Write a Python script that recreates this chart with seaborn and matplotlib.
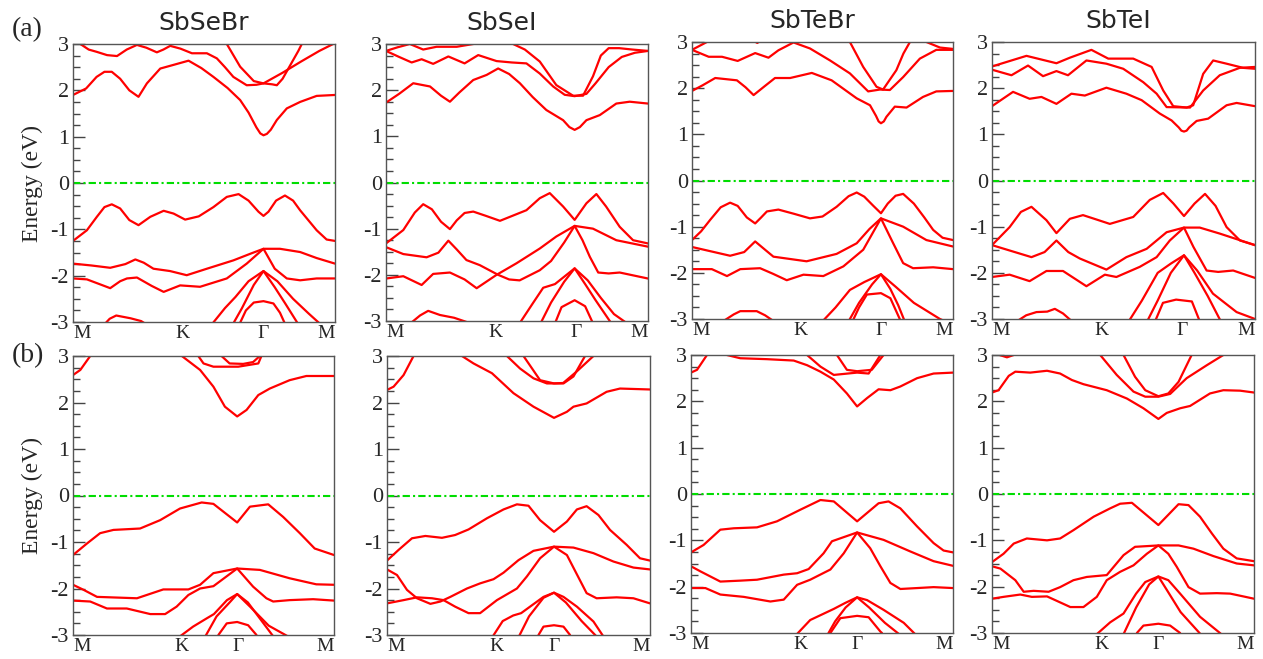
import matplotlib
matplotlib.use("Agg")
import matplotlib.pyplot as plt
from matplotlib.ticker import MultipleLocator, FixedLocator
import seaborn as sns
import pandas as pd

# ---------------- labels ----------------
materials = ["SbSeBr", "SbSeI", "SbTeBr", "SbTeI"]
row_tags = ["(a)", "(b)"]
kpath_labels = ["M", "K", "Γ", "M"]
kticks_a = [0.0, 0.416, 0.724, 1.0]
kticks_b = [0.0, 0.416, 0.634, 1.0]
energy_ticks = [-3, -2, -1, 0, 1, 2, 3]
energy_ticklabels = ["-3", "-2", "-1", "0", "1", "2", "3"]
ylabel_text = "Energy (eV)"

# ================= row (a) =================
# ---- SbSeBr (a) ----
a1_c1_k = [0, 0.05, 0.09, 0.12, 0.148, 0.18, 0.215, 0.25, 0.282, 0.333, 0.384, 0.441, 0.49, 0.536, 0.59, 0.638, 0.67, 0.70, 0.715, 0.727, 0.74, 0.755, 0.778, 0.816, 0.867, 0.93, 1.0]
a1_c1_e = [1.90, 2.04, 2.29, 2.40, 2.40, 2.25, 2.00, 1.86, 2.15, 2.47, 2.55, 2.64, 2.48, 2.29, 2.05, 1.79, 1.52, 1.20, 1.07, 1.03, 1.06, 1.15, 1.36, 1.61, 1.75, 1.88, 1.90]
a1_c2_k = [0, 0.028, 0.06, 0.091, 0.13, 0.168, 0.205, 0.244, 0.28, 0.32, 0.345, 0.371, 0.41, 0.454, 0.511, 0.549, 0.58, 0.612, 0.663, 0.70, 0.727, 0.80, 0.87, 0.94, 1.0]
a1_c2_e = [3.1, 3.0, 2.88, 2.83, 2.76, 2.74, 2.88, 2.98, 2.92, 2.82, 2.88, 2.96, 2.9, 2.80, 2.80, 2.69, 2.50, 2.29, 2.11, 2.12, 2.15, 2.38, 2.62, 2.85, 3.02]
a1_c3_k = [0.575, 0.587, 0.638, 0.69, 0.727, 0.76, 0.778, 0.80, 0.83, 0.86, 0.875]
a1_c3_e = [3.08, 3.0, 2.51, 2.20, 2.15, 2.13, 2.11, 2.25, 2.55, 2.85, 3.02]
a1_v1_k = [0, 0.053, 0.091, 0.12, 0.148, 0.18, 0.215, 0.25, 0.295, 0.346, 0.384, 0.428, 0.48, 0.536, 0.587, 0.632, 0.67, 0.708, 0.727, 0.746, 0.775, 0.809, 0.84, 0.867, 0.93, 0.968, 1.0]
a1_v1_e = [-1.25, -1.02, -0.73, -0.52, -0.46, -0.55, -0.80, -0.91, -0.73, -0.60, -0.66, -0.79, -0.72, -0.52, -0.30, -0.24, -0.38, -0.62, -0.71, -0.62, -0.38, -0.27, -0.38, -0.59, -1.02, -1.22, -1.25]
a1_v2_k = [0, 0.07, 0.142, 0.20, 0.238, 0.27, 0.307, 0.37, 0.434, 0.511, 0.612, 0.68, 0.727, 0.79, 0.867, 0.93, 1.0]
a1_v2_e = [-1.74, -1.78, -1.83, -1.75, -1.65, -1.72, -1.85, -1.90, -1.99, -1.85, -1.67, -1.52, -1.42, -1.42, -1.49, -1.62, -1.74]
a1_v3_k = [0, 0.053, 0.10, 0.142, 0.18, 0.206, 0.244, 0.30, 0.346, 0.409, 0.485, 0.587, 0.663, 0.727, 0.77, 0.816, 0.867, 0.93, 1.0]
a1_v3_e = [-2.06, -2.08, -2.18, -2.27, -2.12, -2.06, -2.04, -2.22, -2.35, -2.21, -2.24, -2.06, -1.74, -1.42, -1.85, -2.06, -2.10, -2.06, -2.06]
a1_v4_k = [0.53, 0.58, 0.62, 0.67, 0.727, 0.78, 0.84, 0.90, 0.945]
a1_v4_e = [-3.05, -2.70, -2.46, -2.12, -1.90, -2.12, -2.50, -2.82, -3.05]
a1_v5_k = [0.61, 0.645, 0.69, 0.727, 0.77, 0.81, 0.86]
a1_v5_e = [-3.05, -2.70, -2.20, -1.90, -2.25, -2.60, -3.05]
a1_v6_k = [0.635, 0.66, 0.69, 0.727, 0.765, 0.79, 0.81]
a1_v6_e = [-3.05, -2.75, -2.58, -2.55, -2.60, -2.80, -3.05]
a1_v7_k = [0.12, 0.14, 0.165, 0.22, 0.26, 0.28]
a1_v7_e = [-3.05, -2.93, -2.86, -2.92, -2.98, -3.05]

# ---- SbSeI (a) ----
a2_c1_k = [0, 0.05, 0.104, 0.168, 0.21, 0.244, 0.28, 0.333, 0.384, 0.428, 0.47, 0.511, 0.56, 0.612, 0.676, 0.70, 0.72, 0.74, 0.765, 0.816, 0.879, 0.93, 1.0]
a2_c1_e = [1.73, 1.92, 2.15, 2.08, 1.88, 1.75, 1.95, 2.22, 2.33, 2.47, 2.35, 2.15, 1.85, 1.57, 1.35, 1.20, 1.14, 1.20, 1.35, 1.46, 1.71, 1.75, 1.71]
a2_c2_k = [0, 0.05, 0.098, 0.136, 0.18, 0.238, 0.30, 0.352, 0.422, 0.48, 0.536, 0.587, 0.638, 0.682, 0.72, 0.765, 0.80, 0.85, 0.90, 0.95, 1.0]
a2_c2_e = [2.85, 2.72, 2.60, 2.67, 2.57, 2.73, 2.58, 2.76, 2.63, 2.60, 2.58, 2.36, 2.08, 1.90, 1.87, 1.92, 2.15, 2.50, 2.72, 2.81, 2.85]
a2_c3_k = [0, 0.045, 0.091, 0.142, 0.193, 0.27, 0.333, 0.40, 0.47, 0.485, 0.53, 0.587, 0.65, 0.714, 0.752, 0.79, 0.82, 0.85, 0.89, 0.94, 1.0]
a2_c3_e = [2.85, 2.93, 3.0, 2.88, 2.94, 2.94, 3.0, 3.08, 3.03, 3.0, 2.88, 2.62, 2.11, 1.88, 1.88, 2.30, 2.75, 2.91, 2.91, 2.88, 2.85]
a2_v1_k = [0, 0.066, 0.11, 0.142, 0.175, 0.21, 0.244, 0.27, 0.30, 0.333, 0.38, 0.435, 0.536, 0.587, 0.625, 0.676, 0.72, 0.765, 0.803, 0.84, 0.892, 0.943, 1.0]
a2_v1_e = [-1.32, -1.03, -0.65, -0.47, -0.58, -0.85, -1.01, -0.82, -0.66, -0.63, -0.72, -0.83, -0.60, -0.34, -0.23, -0.52, -0.81, -0.45, -0.25, -0.52, -0.96, -1.25, -1.32]
a2_v2_k = [0, 0.066, 0.155, 0.20, 0.238, 0.27, 0.307, 0.358, 0.428, 0.47, 0.51, 0.587, 0.63, 0.68, 0.72, 0.75, 0.778, 0.81, 0.85, 0.892, 1.0]
a2_v2_e = [-1.40, -1.55, -1.62, -1.52, -1.26, -1.45, -1.68, -1.79, -2.0, -2.10, -2.12, -1.90, -1.70, -1.30, -0.94, -1.25, -1.61, -1.95, -1.97, -1.95, -2.08]
a2_v3_k = [0, 0.066, 0.136, 0.18, 0.244, 0.30, 0.346, 0.422, 0.498, 0.587, 0.65, 0.72, 0.79, 0.879, 1.0]
a2_v3_e = [-2.08, -2.03, -2.22, -1.98, -1.95, -2.10, -2.29, -2.0, -1.75, -1.43, -1.17, -0.94, -1.0, -1.25, -1.39]
a2_v4_k = [0.51, 0.56, 0.60, 0.645, 0.72, 0.77, 0.82, 0.87, 0.92]
a2_v4_e = [-3.05, -2.62, -2.28, -2.20, -1.86, -2.12, -2.50, -2.85, -3.05]
a2_v5_k = [0.59, 0.63, 0.68, 0.72, 0.76, 0.80, 0.86]
a2_v5_e = [-3.05, -2.60, -2.15, -1.86, -2.20, -2.55, -3.05]
a2_v6_k = [0.645, 0.67, 0.72, 0.76, 0.79]
a2_v6_e = [-3.05, -2.70, -2.55, -2.68, -3.05]
a2_v7_k = [0.10, 0.13, 0.161, 0.206, 0.26, 0.307]
a2_v7_e = [-3.02, -2.88, -2.78, -2.87, -2.93, -3.02]

# ---- SbTeBr (a) ----
a3_c1_k = [0, 0.04, 0.089, 0.172, 0.205, 0.236, 0.28, 0.318, 0.376, 0.459, 0.535, 0.631, 0.682, 0.705, 0.715, 0.724, 0.735, 0.745, 0.777, 0.822, 0.885, 0.936, 1.0]
a3_c1_e = [1.94, 2.06, 2.22, 2.17, 2.02, 1.85, 2.05, 2.22, 2.22, 2.33, 2.17, 1.78, 1.63, 1.40, 1.28, 1.24, 1.28, 1.38, 1.60, 1.58, 1.81, 1.93, 1.94]
a3_c2_k = [0, 0.064, 0.115, 0.175, 0.242, 0.293, 0.331, 0.389, 0.452, 0.529, 0.605, 0.675, 0.72, 0.758, 0.809, 0.873, 0.936, 1.0]
a3_c2_e = [2.83, 2.68, 2.68, 2.59, 2.76, 2.66, 2.82, 2.99, 2.86, 2.60, 2.32, 1.93, 1.97, 1.96, 2.24, 2.64, 2.83, 2.83]
a3_c3_k = [0.58, 0.605, 0.656, 0.707, 0.732, 0.783, 0.81, 0.835, 0.85]
a3_c3_e = [3.1, 3.0, 2.46, 2.03, 1.97, 2.39, 2.75, 3.0, 3.1]
a3_c4_k = [0.88, 0.898, 0.95, 1.0]
a3_c4_e = [3.08, 3.0, 2.88, 2.85]
a3_c5_k = [0, 0.057, 0.075]
a3_c5_e = [2.83, 3.0, 3.1]
a3_c6_k = [0.235, 0.25, 0.265]
a3_c6_e = [3.03, 2.98, 3.03]
a3_v1_k = [0, 0.035, 0.07, 0.11, 0.146, 0.175, 0.21, 0.242, 0.265, 0.287, 0.331, 0.39, 0.452, 0.50, 0.554, 0.60, 0.631, 0.66, 0.695, 0.724, 0.75, 0.78, 0.809, 0.85, 0.89, 0.924, 0.96, 1.0]
a3_v1_e = [-1.29, -1.10, -0.85, -0.58, -0.48, -0.55, -0.80, -0.93, -0.80, -0.67, -0.63, -0.72, -0.82, -0.78, -0.57, -0.34, -0.26, -0.35, -0.55, -0.71, -0.50, -0.33, -0.29, -0.50, -0.80, -1.07, -1.24, -1.29]
a3_v2_k = [0, 0.146, 0.20, 0.242, 0.28, 0.312, 0.439, 0.554, 0.631, 0.68, 0.724, 0.809, 0.898, 1.0]
a3_v2_e = [-1.44, -1.63, -1.55, -1.32, -1.50, -1.65, -1.75, -1.59, -1.36, -1.05, -0.82, -1.0, -1.29, -1.43]
a3_v3_k = [0, 0.076, 0.134, 0.185, 0.261, 0.31, 0.363, 0.427, 0.503, 0.58, 0.656, 0.724, 0.77, 0.809, 0.847, 0.924, 1.0]
a3_v3_e = [-1.92, -1.92, -2.07, -1.92, -1.90, -2.02, -2.16, -2.04, -2.07, -1.86, -1.50, -0.82, -1.35, -1.79, -1.90, -1.88, -1.92]
a3_v4_k = [0.50, 0.55, 0.605, 0.66, 0.724, 0.78, 0.85, 0.95, 0.97]
a3_v4_e = [-3.05, -2.75, -2.37, -2.20, -2.03, -2.30, -2.65, -3.0, -3.05]
a3_v5_k = [0.60, 0.64, 0.69, 0.724, 0.76, 0.79, 0.815]
a3_v5_e = [-3.05, -2.65, -2.25, -2.03, -2.35, -2.70, -3.05]
a3_v6_k = [0.615, 0.64, 0.67, 0.724, 0.76, 0.78, 0.80]
a3_v6_e = [-3.05, -2.75, -2.47, -2.44, -2.55, -2.80, -3.05]
a3_v7_k = [0.127, 0.16, 0.185, 0.248, 0.28, 0.306]
a3_v7_e = [-3.02, -2.90, -2.83, -2.83, -2.92, -3.02]

# ---- SbTeI (a) ----
a4_c1_k = [0, 0.08, 0.143, 0.188, 0.245, 0.302, 0.353, 0.435, 0.511, 0.569, 0.638, 0.683, 0.71, 0.72, 0.73, 0.74, 0.75, 0.778, 0.822, 0.892, 0.93, 1.0]
a4_c1_e = [1.61, 1.92, 1.77, 1.81, 1.66, 1.88, 1.84, 2.01, 1.88, 1.74, 1.45, 1.30, 1.15, 1.08, 1.06, 1.08, 1.15, 1.29, 1.34, 1.63, 1.68, 1.61]
a4_c2_k = [0, 0.074, 0.137, 0.194, 0.245, 0.289, 0.359, 0.435, 0.499, 0.575, 0.626, 0.664, 0.753, 0.803, 0.866, 0.942, 1.0]
a4_c2_e = [2.40, 2.28, 2.49, 2.26, 2.37, 2.28, 2.60, 2.53, 2.42, 2.13, 1.88, 1.59, 1.58, 1.95, 2.28, 2.44, 2.46]
a4_c3_k = [0, 0.131, 0.245, 0.296, 0.378, 0.442, 0.537, 0.607, 0.651, 0.689, 0.74, 0.765, 0.803, 0.841, 0.892, 0.955, 1.0]
a4_c3_e = [2.47, 2.70, 2.54, 2.66, 2.83, 2.64, 2.64, 2.46, 1.95, 1.61, 1.58, 1.63, 2.31, 2.60, 2.53, 2.44, 2.42]
a4_v1_k = [0, 0.067, 0.11, 0.15, 0.207, 0.245, 0.296, 0.346, 0.40, 0.448, 0.537, 0.60, 0.651, 0.69, 0.73, 0.77, 0.81, 0.85, 0.892, 0.943, 1.0]
a4_v1_e = [-1.40, -1.01, -0.68, -0.57, -0.86, -1.14, -0.83, -0.75, -0.85, -0.94, -0.79, -0.42, -0.27, -0.50, -0.77, -0.50, -0.29, -0.55, -1.01, -1.30, -1.40]
a4_v2_k = [0, 0.15, 0.20, 0.245, 0.29, 0.334, 0.435, 0.511, 0.588, 0.664, 0.73, 0.79, 0.866, 1.0]
a4_v2_e = [-1.40, -1.66, -1.55, -1.30, -1.55, -1.69, -1.93, -1.66, -1.48, -1.12, -1.02, -1.02, -1.15, -1.40]
a4_v3_k = [0, 0.067, 0.143, 0.207, 0.27, 0.359, 0.429, 0.473, 0.562, 0.626, 0.676, 0.73, 0.766, 0.816, 0.86, 0.917, 1.0]
a4_v3_e = [-2.09, -2.04, -2.18, -1.96, -1.96, -2.29, -2.04, -2.09, -1.87, -1.66, -1.30, -1.02, -1.44, -1.95, -1.98, -1.95, -2.11]
a4_v4_k = [0.52, 0.57, 0.63, 0.68, 0.73, 0.78, 0.84, 0.93, 1.0]
a4_v4_e = [-3.05, -2.60, -2.00, -1.80, -1.62, -1.95, -2.45, -2.85, -3.0]
a4_v5_k = [0.59, 0.63, 0.68, 0.73, 0.77, 0.82, 0.87]
a4_v5_e = [-3.05, -2.60, -2.00, -1.62, -2.00, -2.50, -3.05]
a4_v6_k = [0.62, 0.65, 0.70, 0.76, 0.79]
a4_v6_e = [-3.05, -2.65, -2.58, -2.62, -3.05]
a4_v7_k = [0.10, 0.13, 0.169, 0.21, 0.239, 0.27, 0.30]
a4_v7_e = [-3.03, -2.92, -2.85, -2.84, -2.78, -2.88, -3.03]

# ================= row (b) =================
# ---- SbSeBr (b) ----
b1_c0_k = [0, 0.028, 0.066, 0.08]
b1_c0_e = [2.59, 2.70, 3.0, 3.1]
b1_c1_k = [0.40, 0.417, 0.487, 0.538, 0.582, 0.629, 0.665, 0.71, 0.754, 0.83, 0.894, 1.0]
b1_c1_e = [3.1, 3.0, 2.70, 2.34, 1.91, 1.70, 1.84, 2.16, 2.30, 2.48, 2.57, 2.57]
b1_c2_k = [0.47, 0.48, 0.50, 0.538, 0.633, 0.71, 0.722, 0.73]
b1_c2_e = [3.1, 3.0, 2.84, 2.77, 2.77, 2.84, 3.0, 3.1]
b1_c3_k = [0.56, 0.569, 0.60, 0.652, 0.69, 0.716, 0.725]
b1_c3_e = [3.1, 3.0, 2.84, 2.83, 2.87, 3.0, 3.1]
b1_v1_k = [0, 0.054, 0.104, 0.155, 0.257, 0.334, 0.41, 0.493, 0.538, 0.629, 0.678, 0.748, 0.805, 0.869, 0.926, 1.0]
b1_v1_e = [-1.28, -1.03, -0.81, -0.74, -0.71, -0.53, -0.28, -0.15, -0.18, -0.58, -0.24, -0.19, -0.46, -0.81, -1.14, -1.28]
b1_v2_k = [0, 0.041, 0.092, 0.245, 0.346, 0.442, 0.487, 0.538, 0.629, 0.716, 0.83, 0.932, 1.0]
b1_v2_e = [-1.92, -2.03, -2.18, -2.21, -2.02, -2.02, -1.92, -1.67, -1.57, -1.60, -1.78, -1.91, -1.92]
b1_v3_k = [0, 0.066, 0.13, 0.206, 0.296, 0.353, 0.397, 0.442, 0.487, 0.538, 0.629, 0.69, 0.741, 0.767, 0.83, 0.92, 1.0]
b1_v3_e = [-2.26, -2.28, -2.43, -2.43, -2.55, -2.55, -2.39, -2.14, -2.0, -1.95, -1.57, -1.96, -2.21, -2.28, -2.25, -2.23, -2.26]
b1_v4_k = [0.405, 0.46, 0.51, 0.54, 0.59, 0.629, 0.67, 0.73, 0.77]
b1_v4_e = [-3.05, -2.82, -2.65, -2.55, -2.25, -2.12, -2.30, -2.75, -3.05]
b1_v5_k = [0.505, 0.55, 0.60, 0.629, 0.68, 0.75, 0.83]
b1_v5_e = [-3.05, -2.60, -2.30, -2.12, -2.40, -2.80, -3.05]
b1_v6_k = [0.557, 0.589, 0.629, 0.671, 0.703]
b1_v6_e = [-3.0, -2.75, -2.72, -2.79, -3.0]

# ---- SbSeI (b) ----
b2_c0_k = [0, 0.025, 0.063, 0.101, 0.11]
b2_c0_e = [2.27, 2.34, 2.59, 3.0, 3.1]
b2_c1_k = [0.27, 0.285, 0.329, 0.399, 0.481, 0.557, 0.635, 0.684, 0.709, 0.759, 0.835, 0.886, 1.0]
b2_c1_e = [3.1, 3.0, 2.84, 2.63, 2.20, 1.91, 1.67, 1.80, 1.91, 1.98, 2.23, 2.30, 2.28]
b2_c2_k = [0.44, 0.456, 0.506, 0.557, 0.608, 0.671, 0.709, 0.753, 0.76]
b2_c2_e = [3.1, 3.0, 2.73, 2.52, 2.41, 2.41, 2.56, 3.0, 3.1]
b2_c3_k = [0.51, 0.519, 0.582, 0.635, 0.67, 0.72, 0.785, 0.79]
b2_c3_e = [3.1, 3.0, 2.48, 2.41, 2.42, 2.66, 3.0, 3.1]
b2_v1_k = [0, 0.044, 0.095, 0.146, 0.209, 0.259, 0.31, 0.38, 0.443, 0.494, 0.538, 0.582, 0.635, 0.684, 0.722, 0.759, 0.804, 0.848, 0.911, 0.962, 1.0]
b2_v1_e = [-1.40, -1.17, -0.92, -0.87, -0.91, -0.85, -0.73, -0.49, -0.30, -0.19, -0.22, -0.53, -0.78, -0.56, -0.30, -0.23, -0.42, -0.74, -1.06, -1.35, -1.40]
b2_v2_k = [0, 0.038, 0.076, 0.114, 0.165, 0.203, 0.241, 0.304, 0.354, 0.405, 0.443, 0.5, 0.557, 0.635, 0.709, 0.785, 0.861, 0.937, 1.0]
b2_v2_e = [-1.59, -1.71, -2.03, -2.21, -2.33, -2.28, -2.18, -2.0, -1.89, -1.80, -1.66, -1.39, -1.19, -1.10, -1.12, -1.24, -1.42, -1.55, -1.59]
b2_v3_k = [0, 0.063, 0.114, 0.171, 0.215, 0.259, 0.31, 0.354, 0.418, 0.494, 0.532, 0.582, 0.635, 0.684, 0.759, 0.797, 0.873, 0.937, 1.0]
b2_v3_e = [-2.32, -2.25, -2.19, -2.21, -2.25, -2.39, -2.53, -2.53, -2.25, -2.0, -1.74, -1.35, -1.10, -1.28, -2.10, -2.21, -2.19, -2.21, -2.32]
b2_v4_k = [0.40, 0.44, 0.48, 0.51, 0.595, 0.635, 0.671, 0.722, 0.785, 0.825]
b2_v4_e = [-3.05, -2.70, -2.58, -2.53, -2.18, -2.09, -2.18, -2.39, -2.71, -3.05]
b2_v5_k = [0.50, 0.54, 0.595, 0.635, 0.68, 0.74, 0.80]
b2_v5_e = [-3.05, -2.60, -2.20, -2.09, -2.30, -2.70, -3.05]
b2_v6_k = [0.576, 0.595, 0.635, 0.671, 0.696]
b2_v6_e = [-3.0, -2.82, -2.79, -2.82, -3.0]

# ---- SbTeBr (b) ----
b3_c0_k = [0, 0.023, 0.061, 0.07]
b3_c0_e = [2.62, 2.68, 3.0, 3.08]
b3_c1_k = [0.12, 0.137, 0.188, 0.29, 0.392, 0.443, 0.494, 0.545, 0.595, 0.634, 0.672, 0.716, 0.761, 0.799, 0.863, 0.926, 1.0]
b3_c1_e = [3.1, 3.0, 2.93, 2.91, 2.88, 2.78, 2.64, 2.47, 2.17, 1.89, 2.07, 2.26, 2.24, 2.32, 2.50, 2.60, 2.62]
b3_c2_k = [0.43, 0.443, 0.494, 0.545, 0.634, 0.678, 0.723, 0.73]
b3_c2_e = [3.1, 3.0, 2.75, 2.57, 2.62, 2.60, 3.0, 3.08]
b3_c3_k = [0.55, 0.557, 0.595, 0.634, 0.69, 0.735, 0.74]
b3_c3_e = [3.08, 3.0, 2.68, 2.65, 2.68, 3.0, 3.08]
b3_v1_k = [0, 0.048, 0.112, 0.163, 0.252, 0.328, 0.417, 0.494, 0.545, 0.634, 0.716, 0.754, 0.799, 0.863, 0.926, 0.964, 1.0]
b3_v1_e = [-1.26, -1.10, -0.77, -0.74, -0.72, -0.59, -0.34, -0.13, -0.16, -0.59, -0.20, -0.16, -0.31, -0.70, -1.06, -1.22, -1.26]
b3_v2_k = [0, 0.036, 0.112, 0.188, 0.252, 0.354, 0.405, 0.449, 0.506, 0.538, 0.634, 0.735, 0.837, 0.926, 1.0]
b3_v2_e = [-1.56, -1.67, -1.89, -1.87, -1.85, -1.74, -1.71, -1.62, -1.28, -1.02, -0.83, -0.99, -1.24, -1.45, -1.55]
b3_v3_k = [0, 0.055, 0.112, 0.201, 0.303, 0.354, 0.405, 0.455, 0.532, 0.583, 0.634, 0.684, 0.723, 0.761, 0.799, 0.863, 0.926, 1.0]
b3_v3_e = [-2.03, -2.03, -2.17, -2.22, -2.32, -2.28, -1.96, -1.85, -1.63, -1.28, -0.83, -1.17, -1.56, -1.92, -2.05, -2.03, -2.01, -2.03]
b3_v4_k = [0.40, 0.455, 0.50, 0.545, 0.589, 0.634, 0.672, 0.735, 0.812, 0.86]
b3_v4_e = [-3.05, -2.72, -2.60, -2.48, -2.35, -2.23, -2.29, -2.50, -2.78, -3.05]
b3_v5_k = [0.52, 0.55, 0.59, 0.634, 0.68, 0.74, 0.80]
b3_v5_e = [-3.05, -2.75, -2.45, -2.23, -2.45, -2.78, -3.05]
b3_v6_k = [0.532, 0.57, 0.634, 0.678, 0.723, 0.729]
b3_v6_e = [-3.0, -2.68, -2.63, -2.66, -2.97, -3.0]

# ---- SbTeI (b) ----
b4_c0_k = [0.02, 0.029, 0.057, 0.083, 0.09]
b4_c0_e = [3.08, 3.0, 2.95, 3.0, 3.08]
b4_c1_k = [0, 0.025, 0.064, 0.089, 0.146, 0.21, 0.26, 0.305, 0.349, 0.438, 0.515, 0.578, 0.635, 0.667, 0.718, 0.756, 0.832, 0.883, 0.947, 1.0]
b4_c1_e = [2.19, 2.24, 2.55, 2.64, 2.62, 2.66, 2.60, 2.46, 2.37, 2.24, 2.06, 1.85, 1.62, 1.75, 1.85, 1.90, 2.17, 2.24, 2.23, 2.19]
b4_c2_k = [0.40, 0.413, 0.476, 0.54, 0.585, 0.635, 0.68, 0.743, 0.82, 0.883, 0.89]
b4_c2_e = [3.1, 3.0, 2.57, 2.21, 2.10, 2.10, 2.16, 2.50, 2.78, 3.0, 3.05]
b4_c3_k = [0.495, 0.502, 0.546, 0.585, 0.635, 0.673, 0.712, 0.762, 0.77]
b4_c3_e = [3.08, 3.0, 2.53, 2.24, 2.11, 2.17, 2.42, 3.0, 3.08]
b4_v1_k = [0, 0.044, 0.083, 0.133, 0.21, 0.26, 0.311, 0.388, 0.451, 0.489, 0.534, 0.635, 0.712, 0.75, 0.794, 0.839, 0.883, 0.934, 1.0]
b4_v1_e = [-1.47, -1.29, -1.07, -0.96, -1.0, -0.96, -0.78, -0.49, -0.31, -0.21, -0.19, -0.67, -0.22, -0.24, -0.49, -0.85, -1.18, -1.39, -1.45]
b4_v2_k = [0, 0.032, 0.089, 0.121, 0.159, 0.216, 0.26, 0.311, 0.362, 0.438, 0.502, 0.546, 0.635, 0.712, 0.769, 0.845, 0.934, 1.0]
b4_v2_e = [-1.56, -1.61, -1.86, -2.11, -2.09, -2.11, -2.01, -1.86, -1.79, -1.75, -1.32, -1.14, -1.11, -1.11, -1.18, -1.34, -1.50, -1.54]
b4_v3_k = [0, 0.044, 0.108, 0.152, 0.21, 0.299, 0.349, 0.4, 0.438, 0.489, 0.54, 0.591, 0.635, 0.673, 0.705, 0.75, 0.794, 0.858, 0.909, 0.959, 1.0]
b4_v3_e = [-2.26, -2.22, -2.17, -2.22, -2.21, -2.44, -2.44, -2.22, -1.86, -1.68, -1.54, -1.29, -1.11, -1.29, -1.57, -2.01, -2.15, -2.14, -2.15, -2.21, -2.26]
b4_v4_k = [0.395, 0.451, 0.502, 0.55, 0.585, 0.635, 0.673, 0.718, 0.794, 0.87, 0.88]
b4_v4_e = [-3.05, -2.77, -2.58, -2.15, -1.90, -1.78, -1.86, -2.15, -2.65, -3.0, -3.05]
b4_v5_k = [0.50, 0.55, 0.60, 0.635, 0.665, 0.72, 0.80]
b4_v5_e = [-3.05, -2.45, -1.95, -1.78, -2.05, -2.55, -3.05]
b4_v6_k = [0.553, 0.578, 0.635, 0.68, 0.718]
b4_v6_e = [-3.0, -2.84, -2.80, -2.84, -3.0]

# ---------------- assemble ----------------
panel_bands = {
    "a1": [(a1_c1_k, a1_c1_e), (a1_c2_k, a1_c2_e), (a1_c3_k, a1_c3_e), (a1_v1_k, a1_v1_e), (a1_v2_k, a1_v2_e),
           (a1_v3_k, a1_v3_e), (a1_v4_k, a1_v4_e), (a1_v5_k, a1_v5_e), (a1_v6_k, a1_v6_e), (a1_v7_k, a1_v7_e)],
    "a2": [(a2_c1_k, a2_c1_e), (a2_c2_k, a2_c2_e), (a2_c3_k, a2_c3_e), (a2_v1_k, a2_v1_e), (a2_v2_k, a2_v2_e),
           (a2_v3_k, a2_v3_e), (a2_v4_k, a2_v4_e), (a2_v5_k, a2_v5_e), (a2_v6_k, a2_v6_e), (a2_v7_k, a2_v7_e)],
    "a3": [(a3_c1_k, a3_c1_e), (a3_c2_k, a3_c2_e), (a3_c3_k, a3_c3_e), (a3_c4_k, a3_c4_e), (a3_c5_k, a3_c5_e),
           (a3_c6_k, a3_c6_e), (a3_v1_k, a3_v1_e), (a3_v2_k, a3_v2_e), (a3_v3_k, a3_v3_e), (a3_v4_k, a3_v4_e),
           (a3_v5_k, a3_v5_e), (a3_v6_k, a3_v6_e), (a3_v7_k, a3_v7_e)],
    "a4": [(a4_c1_k, a4_c1_e), (a4_c2_k, a4_c2_e), (a4_c3_k, a4_c3_e), (a4_v1_k, a4_v1_e), (a4_v2_k, a4_v2_e),
           (a4_v3_k, a4_v3_e), (a4_v4_k, a4_v4_e), (a4_v5_k, a4_v5_e), (a4_v6_k, a4_v6_e), (a4_v7_k, a4_v7_e)],
    "b1": [(b1_c0_k, b1_c0_e), (b1_c1_k, b1_c1_e), (b1_c2_k, b1_c2_e), (b1_c3_k, b1_c3_e), (b1_v1_k, b1_v1_e),
           (b1_v2_k, b1_v2_e), (b1_v3_k, b1_v3_e), (b1_v4_k, b1_v4_e), (b1_v5_k, b1_v5_e), (b1_v6_k, b1_v6_e)],
    "b2": [(b2_c0_k, b2_c0_e), (b2_c1_k, b2_c1_e), (b2_c2_k, b2_c2_e), (b2_c3_k, b2_c3_e), (b2_v1_k, b2_v1_e),
           (b2_v2_k, b2_v2_e), (b2_v3_k, b2_v3_e), (b2_v4_k, b2_v4_e), (b2_v5_k, b2_v5_e), (b2_v6_k, b2_v6_e)],
    "b3": [(b3_c0_k, b3_c0_e), (b3_c1_k, b3_c1_e), (b3_c2_k, b3_c2_e), (b3_c3_k, b3_c3_e), (b3_v1_k, b3_v1_e),
           (b3_v2_k, b3_v2_e), (b3_v3_k, b3_v3_e), (b3_v4_k, b3_v4_e), (b3_v5_k, b3_v5_e), (b3_v6_k, b3_v6_e)],
    "b4": [(b4_c0_k, b4_c0_e), (b4_c1_k, b4_c1_e), (b4_c2_k, b4_c2_e), (b4_c3_k, b4_c3_e), (b4_v1_k, b4_v1_e),
           (b4_v2_k, b4_v2_e), (b4_v3_k, b4_v3_e), (b4_v4_k, b4_v4_e), (b4_v5_k, b4_v5_e), (b4_v6_k, b4_v6_e)],
}

# ---------------- figure ----------------
sns.set_theme(style="white")
plt.rcParams["font.family"] = ["Liberation Serif", "DejaVu Serif"]
plt.rcParams["axes.unicode_minus"] = False

W, H = 1263, 659
fig = plt.figure(figsize=(W / 100, H / 100), dpi=100)
fig.patch.set_facecolor("white")

# pixel boxes: left, top, right, bottom
boxes = {
    "a1": (73, 44, 335, 322), "a2": (386, 44, 648, 321), "a3": (692, 42, 953, 319), "a4": (992, 42, 1255, 319),
    "b1": (73, 356, 334, 635), "b2": (387, 356, 650, 635), "b3": (691, 355, 953, 633), "b4": (992, 355, 1254, 633),
}
title_x = {"a1": 0.50, "a2": 0.44, "a3": 0.46, "a4": 0.48}

for row in ["a", "b"]:
    for i in range(4):
        key = f"{row}{i+1}"
        l, t, r, b = boxes[key]
        ax = fig.add_axes([l / W, 1 - b / H, (r - l) / W, (b - t) / H])
        for k, e in panel_bands[key]:
            df = pd.DataFrame({"k": k, "E": e})
            sns.lineplot(data=df, x="k", y="E", ax=ax, sort=False, estimator=None,
                         color="#ff0000", linewidth=1.6)
        ax.axhline(0, color="#00dd00", linewidth=1.5, linestyle=(0, (3.5, 1.5, 1, 1.5)), zorder=1)
        ax.set_xlim(0, 1)
        ax.set_ylim(-3, 3)
        ax.set_xlabel("")
        ax.set_ylabel("")
        kt = kticks_a if row == "a" else kticks_b
        ax.set_xticks(kt)
        ax.set_xticklabels(kpath_labels, fontsize=14)
        labs = ax.get_xticklabels()
        labs[0].set_ha("left")
        labs[-1].set_ha("right")
        ax.yaxis.set_major_locator(FixedLocator(energy_ticks))
        ax.set_yticklabels(energy_ticklabels, fontsize=16)
        ax.yaxis.set_minor_locator(MultipleLocator(0.25))
        ax.tick_params(axis="y", which="major", direction="in", length=8.5, width=1.0,
                       color="#444444", pad=3, left=True, right=False)
        ax.tick_params(axis="y", which="minor", direction="in", length=5, width=1.0,
                       color="#444444", left=True, right=False)
        ax.tick_params(axis="x", which="both", length=0, pad=2)
        for s in ax.spines.values():
            s.set_color("#555555")
            s.set_linewidth(1.0)
        if row == "a":
            ax.text(title_x[key], 1.05, materials[i], transform=ax.transAxes, ha="center",
                    va="baseline", fontsize=18, family="DejaVu Sans")
        if i == 0:
            cy = (t + b) / 2
            fig.text(32 / W, 1 - cy / H, ylabel_text, rotation=90, ha="center", va="center", fontsize=17)

fig.text(12 / W, 1 - 36 / H, row_tags[0], fontsize=20, ha="left", va="baseline")
fig.text(12 / W, 1 - 362 / H, row_tags[1], fontsize=20, ha="left", va="baseline")

fig.savefig("out.png", dpi=100, facecolor="white")
